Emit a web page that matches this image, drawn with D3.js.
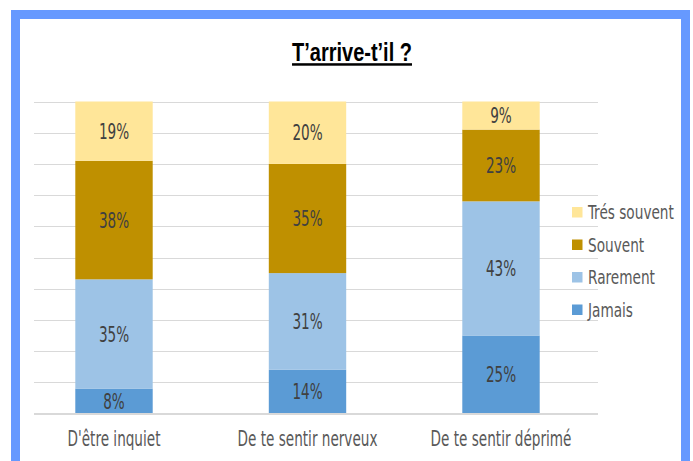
<!doctype html>
<html>
<head>
<meta charset="utf-8">
<script type='text/javascript' src='https://d3js.org/d3.v7.min.js'></script>
<style>
body { margin: 0; background: #fff; }
svg text { font-family: 'DejaVu Sans Condensed', 'DejaVu Sans', sans-serif; font-stretch: condensed; }
</style>
</head>
<body>
<script>
var width = 693, height = 461;

// data
var categories = ["D'être inquiet", "De te sentir nerveux", "De te sentir déprimé"];
var seriesNames = ['Jamais', 'Rarement', 'Souvent', 'Trés souvent'];
var jamais = [8, 14, 25];
var rarement = [35, 31, 43];
var souvent = [38, 35, 23];
var tresSouvent = [19, 20, 9];
var yTicks = [0, 10, 20, 30, 40, 50, 60, 70, 80, 90, 100];
var colors = ['#5B9BD5', '#9DC3E6', '#BF9000', '#FFE699'];

var narrow = 0.72; // squeeze text to look like a condensed face

var rows = categories.map(function(c, i) {
  return {cat: c, 'Jamais': jamais[i], 'Rarement': rarement[i], 'Souvent': souvent[i], 'Trés souvent': tresSouvent[i]};
});
var stacked = d3.stack().keys(seriesNames)(rows);

var svg = d3.select('body').append('svg').attr('width', width).attr('height', height);

// blue frame
svg.append('rect')
  .attr('x', 15.5).attr('y', 14.5)
  .attr('width', 670).attr('height', 470)
  .attr('fill', 'none').attr('stroke', '#6699FF').attr('stroke-width', 9);

// title
svg.append('text')
  .attr('transform', 'translate(352,61) scale(0.8,1)')
  .attr('text-anchor', 'middle')
  .attr('font-size', 25).attr('font-weight', 'bold')
  .attr('text-decoration', 'underline')
  .attr('fill', '#000')
  .style('font-family', "'Liberation Sans', Arial, sans-serif")
  .style('font-stretch', 'normal')
  .text('T’arrive-t’il ?');

var x = d3.scaleBand().domain(categories).range([17.25, 597.75]).paddingInner(0.6).paddingOuter(0.3);
var y = d3.scaleLinear().domain([0, 100]).range([413.5, 101.5]);

// gridlines
svg.append('g').selectAll('line')
  .data(yTicks.slice(1))
  .join('line')
  .attr('x1', 34).attr('x2', 598)
  .attr('y1', function(d) { return Math.round(y(d)) + 0.5; })
  .attr('y2', function(d) { return Math.round(y(d)) + 0.5; })
  .attr('stroke', '#d9d9d9').attr('stroke-width', 1);

// bars
var layers = svg.append('g').selectAll('g')
  .data(stacked)
  .join('g')
  .attr('fill', function(d, i) { return colors[i]; });

layers.selectAll('rect')
  .data(function(d) { return d; })
  .join('rect')
  .attr('x', function(d) { return x(d.data.cat); })
  .attr('width', x.bandwidth())
  .attr('y', function(d) { return y(d[1]); })
  .attr('height', function(d) { return y(d[0]) - y(d[1]); });

// value labels
layers.selectAll('text')
  .data(function(d) { return d; })
  .join('text')
  .attr('transform', function(d) {
    return 'translate(' + (x(d.data.cat) + x.bandwidth() / 2) + ',' + ((y(d[0]) + y(d[1])) / 2) + ') scale(' + narrow + ',1)';
  })
  .attr('dy', '0.36em')
  .attr('text-anchor', 'middle')
  .attr('font-size', 21)
  .attr('fill', '#404040')
  .text(function(d) { return (d[1] - d[0]) + '%'; });

// baseline
svg.append('line')
  .attr('x1', 34).attr('x2', 598)
  .attr('y1', y(0) + 0.5).attr('y2', y(0) + 0.5)
  .attr('stroke', '#d9d9d9').attr('stroke-width', 2);

// x axis labels
var xAxis = svg.append('g')
  .attr('transform', 'translate(0,' + y(0) + ')')
  .call(d3.axisBottom(x).tickSize(0).tickPadding(18));
xAxis.select('.domain').remove();
xAxis.selectAll('text')
  .attr('transform', 'scale(' + narrow + ',1)')
  .attr('font-size', 21)
  .attr('fill', '#595959')
  .style('font-family', "'DejaVu Sans Condensed', 'DejaVu Sans', sans-serif");

// legend
var legendNames = seriesNames.slice().reverse();
var legendColors = colors.slice().reverse();
var legend = svg.append('g').selectAll('g')
  .data(legendNames)
  .join('g')
  .attr('transform', function(d, i) { return 'translate(572,' + (212.5 + i * 32.5) + ')'; });
legend.append('rect')
  .attr('x', 0).attr('y', -5.5)
  .attr('width', 10.5).attr('height', 10.5)
  .attr('fill', function(d, i) { return legendColors[i]; });
legend.append('text')
  .attr('transform', 'translate(16,0) scale(0.8,1)')
  .attr('dy', '0.36em')
  .attr('font-size', 19)
  .attr('fill', '#595959')
  .text(function(d) { return d; });
</script>
</body>
</html>
